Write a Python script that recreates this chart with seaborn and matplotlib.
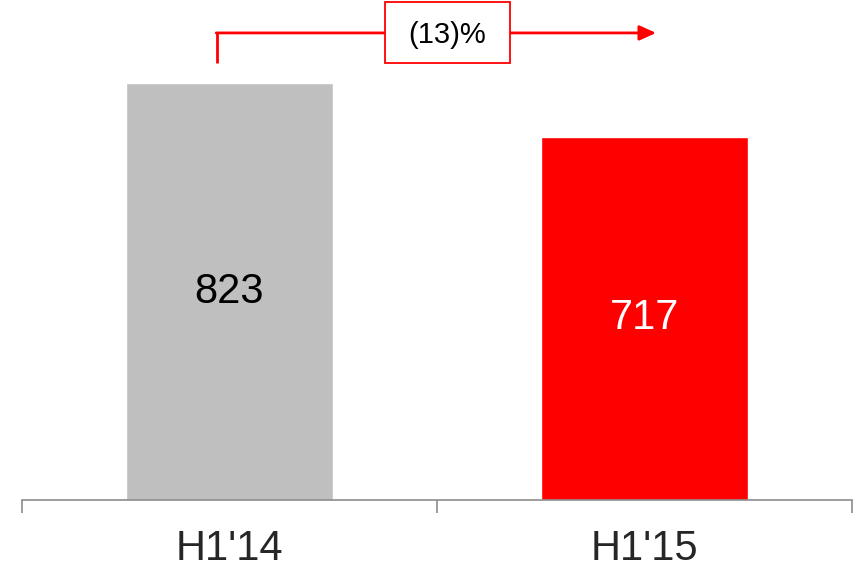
import matplotlib
matplotlib.use("Agg")
import matplotlib.pyplot as plt
from matplotlib.patches import Rectangle
import seaborn as sns
import pandas as pd

periods = ["H1'14", "H1'15"]
values = [823, 717]
bar_colors = ["#BFBFBF", "#FF0000"]
label_colors = ["black", "white"]
change_label = "(13)%"

sns.set_style("white")
plt.rcParams["font.family"] = ["Liberation Sans", "DejaVu Sans"]

df = pd.DataFrame({"period": periods, "value": values})

fig = plt.figure(figsize=(8.58, 5.70), dpi=100)
ax = fig.add_axes([22 / 858, 70 / 570, 830 / 858, 500 / 570])

sns.barplot(data=df, x="period", y="value", hue="period",
            palette=dict(zip(periods, bar_colors)), width=0.5,
            saturation=1, legend=False, ax=ax)

for cont, col in zip(ax.containers, label_colors):
    ax.bar_label(cont, label_type="center", fontsize=30, color=col)

ax.set_xlim(-0.5, 1.5)
ax.set_ylim(0, 987)
ax.set_xlabel("")
ax.set_ylabel("")
ax.set_yticks([])

for side in ["top", "right", "left"]:
    ax.spines[side].set_visible(False)
ax.spines["bottom"].set_color("#8C8C8C")
ax.spines["bottom"].set_linewidth(1.2)

ax.set_xticks([0, 1])
ax.set_xticklabels(periods, fontsize=30)
ax.set_xticks([-0.5, 0.5, 1.5], minor=True)
ax.tick_params(axis="x", which="major", bottom=False, length=0, pad=21)
ax.tick_params(axis="x", which="minor", bottom=True, length=9, width=1.2,
               color="#8C8C8C", direction="out")

# change bracket: vertical stem, horizontal arrow and boxed label
x_start, x_end = -0.030, 1.028
y_low, y_line = 863, 922
ax.plot([x_start, x_start], [y_low, y_line], color="#FF0000", lw=2,
        clip_on=False, solid_capstyle="butt")
ax.annotate("", xy=(x_end, y_line), xytext=(x_start - 0.002, y_line),
            arrowprops=dict(arrowstyle="-|>,head_length=1.0,head_width=0.45",
                            color="#FF0000", lw=2, shrinkA=0, shrinkB=0),
            annotation_clip=False)
box = Rectangle((0.374, 863), 0.301, 120, facecolor="white",
                edgecolor="#FF0000", lw=1.3, clip_on=False, zorder=5)
ax.add_patch(box)
ax.text(0.525, 918, change_label, ha="center", va="center",
        fontsize=21, color="black", zorder=6)

fig.savefig("out.png", dpi=100)
